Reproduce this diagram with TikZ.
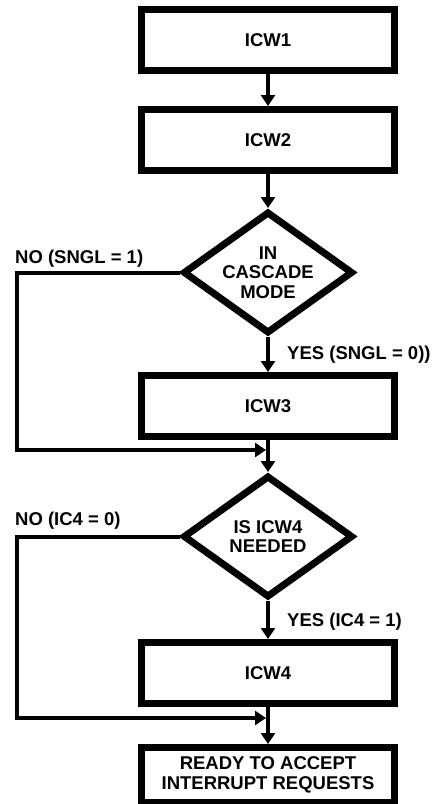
\documentclass[tikz,border=0pt]{standalone}
\usepackage{fontspec}
\setmainfont{Liberation Sans}
\usepackage{tikz}
\usetikzlibrary{arrows.meta, positioning, shapes.geometric}

\begin{document}
\begin{tikzpicture}[
  x=1pt, y=-1pt,
  baseShape/.style={draw=black, line width=7pt, inner sep=0pt, align=center, font=\bfseries\fontsize{18.5}{19.5}\selectfont},
  procBox/.style={baseShape, rectangle, minimum width=253pt, minimum height=61pt},
  decisionBox/.style={baseShape, diamond, aspect=1.4, minimum width=170pt, minimum height=122pt},
  flowArrow/.style={line width=4pt, -{Triangle[width=14pt, length=11pt]}},
  branchLabel/.style={inner sep=0pt, anchor=base west, font=\bfseries\fontsize{18.5}{19.5}\selectfont}
]
\useasboundingbox (0,0) rectangle (432,804);
\node[procBox] (icw1) at (268,40) {ICW1};
\node[procBox, below=32pt of icw1] (icw2) {ICW2};
\node[decisionBox, below=34pt of icw2] (cascade) {IN\\CASCADE\\MODE};
\node[procBox, below=35pt of cascade] (icw3) {ICW3};
\node[decisionBox, below=32pt of icw3] (needed) {IS ICW4\\NEEDED};
\node[procBox, below=38pt of needed] (icw4) {ICW4};
\node[procBox, minimum height=55pt, below=37pt of icw4] (ready) {READY TO ACCEPT\\INTERRUPT REQUESTS};
% branch labels
\node[branchLabel] (noCascade) at (15,263) {NO (SNGL = 1)};
\node[branchLabel] (yesCascade) at (287,359) {YES (SNGL = 0))};
\node[branchLabel] (noIcw4) at (15,525) {NO (IC4 = 0)};
\node[branchLabel] (yesIcw4) at (287,626) {YES (IC4 = 1)};
% return rail
\coordinate (rail) at (17,0);
\coordinate (join1) at (268,450);
\coordinate (join2) at (268,718);
\draw[flowArrow] (icw1.south) -- (icw2.north);
\draw[flowArrow] (icw2.south) -- (cascade.north);
\draw[flowArrow] (cascade.south) -- (icw3.north);
\draw[flowArrow] (icw3.south) -- (needed.north);
\draw[flowArrow] (needed.south) -- (icw4.north);
\draw[flowArrow] (icw4.south) -- (ready.north);
\draw[flowArrow, shorten >=2pt] (cascade.west) -| (rail |- join1) -- (join1);
\draw[flowArrow, shorten >=2pt] (needed.west) -| (rail |- join2) -- (join2);
\end{tikzpicture}
\end{document}
